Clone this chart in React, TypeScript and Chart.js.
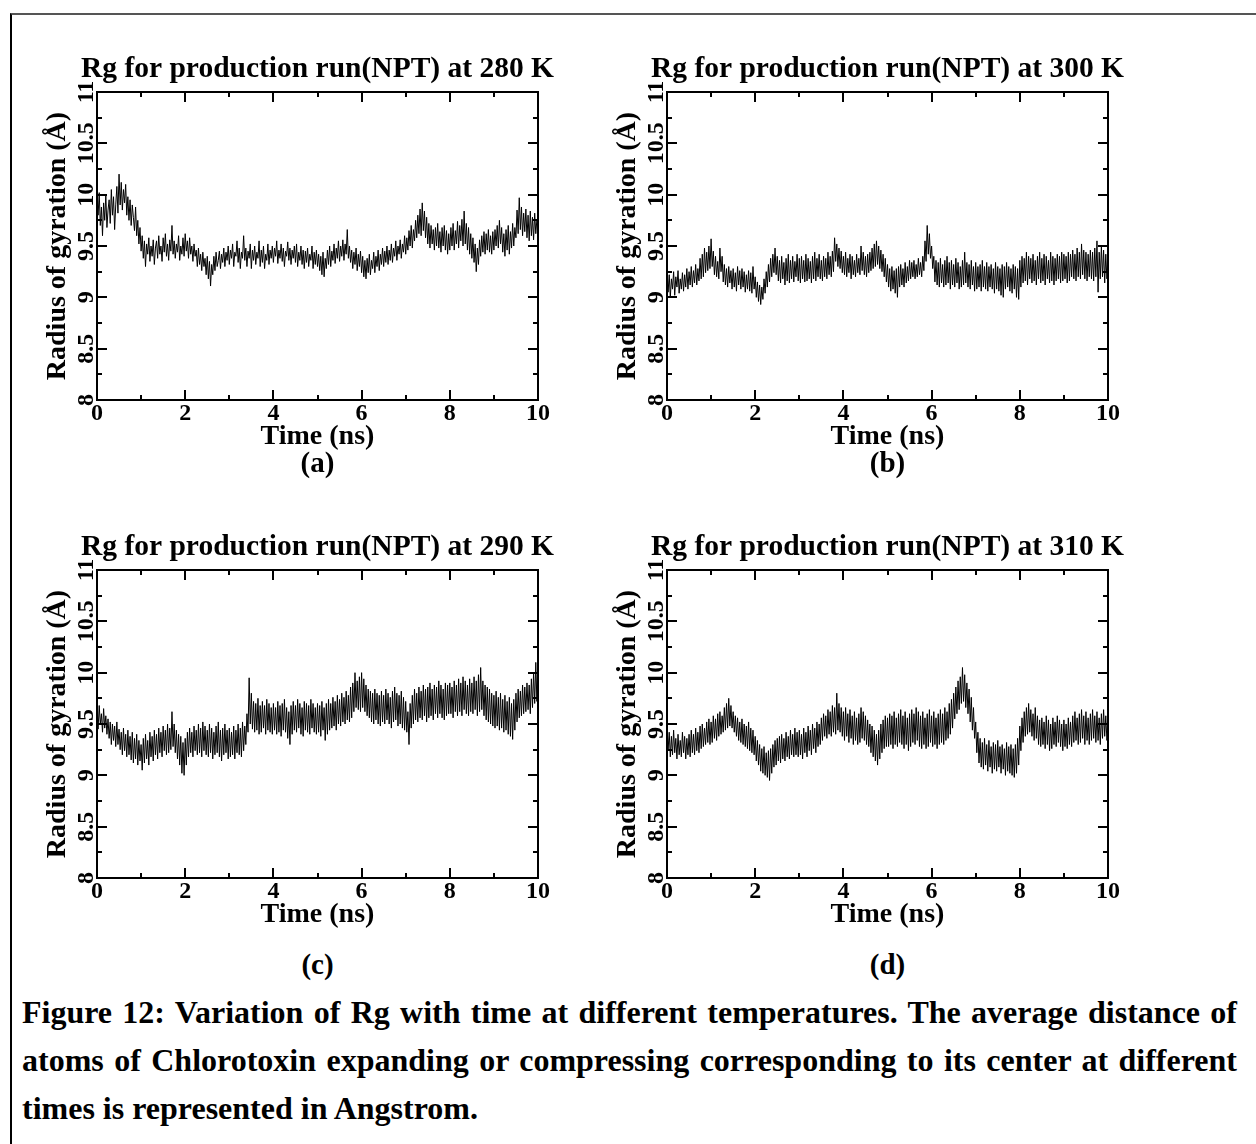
import React, { useEffect, useRef } from "react";
import { Chart, registerables } from "chart.js";

Chart.register(...registerables);

const SERIF = "'Liberation Serif', 'Times New Roman', Times, serif";

// sampling interval of the traced points (ns)
const TIME_STEP_NS = 0.025;

const xTickValues = [0, 2, 4, 6, 8, 10];
const xTickLabels = ["0", "2", "4", "6", "8", "10"];
const xMinorTickValues = [1, 3, 5, 7, 9];
const yTickValues = [8, 8.5, 9, 9.5, 10, 10.5, 11];
const yTickLabels = ["8", "8.5", "9", "9.5", "10", "10.5", "11"];
const yMinorTickValues = [8.25, 8.75, 9.25, 9.75, 10.25, 10.75];

const xAxisTitle = "Time (ns)";
const yAxisTitle = "Radius of gyration (Å)";
const panelTitles = [
  "Rg for production run(NPT) at 280 K",
  "Rg for production run(NPT) at 300 K",
  "Rg for production run(NPT) at 290 K",
  "Rg for production run(NPT) at 310 K",
];
const panelLetters = ["(a)", "(b)", "(c)", "(d)"];
const figureCaption =
  "Figure 12: Variation of Rg with time at different temperatures. The average distance of atoms of Chlorotoxin expanding or compressing corresponding to its center at different times is represented in Angstrom.";

// Rg (Å) every 0.025 ns, 0 → 10 ns (one row pair per ns)
const rg280K = [
  9.95, 9.8, 10.02, 9.7, 9.88, 9.6, 9.92, 9.75, 10.0, 9.68, 9.85, 9.95, 9.72, 10.05, 9.8, 9.98, 9.66, 9.9, 10.08, 9.82,
  10.2, 9.9, 10.12, 9.85, 10.05, 9.92, 10.1, 9.8, 9.98, 9.75, 9.95, 9.7, 9.9, 9.78, 9.65, 9.88, 9.6, 9.75, 9.52, 9.68,
  9.45, 9.6, 9.38, 9.55, 9.3, 9.52, 9.42, 9.58, 9.35, 9.5, 9.4, 9.56, 9.32, 9.48, 9.55, 9.38, 9.6, 9.42, 9.5, 9.35,
  9.58, 9.44, 9.62, 9.4, 9.52, 9.36, 9.56, 9.45, 9.7, 9.42, 9.55, 9.38, 9.52, 9.44, 9.6, 9.36, 9.5, 9.42, 9.58, 9.4,
  9.62, 9.45, 9.55, 9.38, 9.58, 9.42, 9.5, 9.35, 9.52, 9.4, 9.46, 9.3, 9.48, 9.32, 9.42, 9.26, 9.44, 9.3, 9.38, 9.22,
  9.4, 9.18, 9.35, 9.11, 9.32, 9.22, 9.4, 9.26, 9.44, 9.3, 9.36, 9.45, 9.28, 9.42, 9.34, 9.48, 9.3, 9.44, 9.36, 9.5,
  9.32, 9.46, 9.38, 9.52, 9.3, 9.44, 9.4, 9.55, 9.34, 9.48, 9.28, 9.44, 9.38, 9.6, 9.36, 9.48, 9.3, 9.45, 9.38, 9.52,
  9.28, 9.46, 9.36, 9.5, 9.32, 9.44, 9.38, 9.55, 9.3, 9.46, 9.34, 9.5, 9.28, 9.42, 9.36, 9.52, 9.32, 9.46, 9.38, 9.5,
  9.34, 9.48, 9.4, 9.55, 9.33, 9.46, 9.38, 9.52, 9.35, 9.48, 9.3, 9.45, 9.4, 9.54, 9.36, 9.48, 9.32, 9.46, 9.38, 9.5,
  9.34, 9.52, 9.3, 9.44, 9.36, 9.5, 9.32, 9.46, 9.28, 9.45, 9.34, 9.48, 9.3, 9.42, 9.36, 9.5, 9.28, 9.44, 9.32, 9.46,
  9.3, 9.42, 9.26, 9.4, 9.22, 9.44, 9.2, 9.38, 9.28, 9.46, 9.32, 9.5, 9.3, 9.45, 9.36, 9.52, 9.33, 9.48, 9.38, 9.55,
  9.35, 9.5, 9.4, 9.56, 9.36, 9.52, 9.42, 9.66, 9.38, 9.5, 9.34, 9.46, 9.28, 9.44, 9.32, 9.48, 9.26, 9.42, 9.3, 9.45,
  9.24, 9.4, 9.2, 9.36, 9.18, 9.38, 9.24, 9.42, 9.22, 9.36, 9.28, 9.44, 9.24, 9.4, 9.3, 9.46, 9.26, 9.42, 9.32, 9.48,
  9.3, 9.45, 9.34, 9.5, 9.32, 9.46, 9.36, 9.52, 9.34, 9.48, 9.4, 9.55, 9.36, 9.5, 9.42, 9.56, 9.38, 9.52, 9.44, 9.6,
  9.42, 9.58, 9.46, 9.65, 9.5, 9.7, 9.48, 9.66, 9.55, 9.75, 9.58, 9.8, 9.62, 9.86, 9.6, 9.92, 9.65, 9.84, 9.58, 9.78,
  9.52, 9.72, 9.48, 9.7, 9.52, 9.66, 9.46, 9.68, 9.5, 9.72, 9.48, 9.64, 9.44, 9.68, 9.5, 9.7, 9.46, 9.65, 9.42, 9.62,
  9.46, 9.68, 9.5, 9.72, 9.46, 9.65, 9.52, 9.74, 9.48, 9.7, 9.55, 9.76, 9.5, 9.84, 9.52, 9.72, 9.46, 9.68, 9.42, 9.62,
  9.38, 9.58, 9.34, 9.52, 9.25, 9.48, 9.32, 9.56, 9.4, 9.6, 9.44, 9.64, 9.42, 9.62, 9.46, 9.66, 9.44, 9.6, 9.42, 9.64,
  9.46, 9.66, 9.5, 9.7, 9.48, 9.75, 9.52, 9.68, 9.44, 9.62, 9.4, 9.66, 9.46, 9.7, 9.42, 9.64, 9.48, 9.72, 9.5, 9.68,
  9.58, 9.85, 9.62, 9.97, 9.66, 9.88, 9.6, 9.82, 9.64, 9.86, 9.58, 9.8, 9.55, 9.84, 9.6, 9.78, 9.56, 9.82, 9.62, 9.76,
  9.7,
];

const rg300K = [
  9.3, 9.05, 9.22, 9.0, 9.18, 9.08, 9.25, 9.02, 9.2, 9.1, 9.26, 9.04, 9.18, 9.08, 9.24, 9.06, 9.22, 9.1, 9.28, 9.08,
  9.25, 9.12, 9.3, 9.1, 9.26, 9.14, 9.32, 9.12, 9.28, 9.16, 9.38, 9.18, 9.42, 9.2, 9.48, 9.24, 9.44, 9.26, 9.5, 9.28,
  9.57, 9.3, 9.45, 9.22, 9.4, 9.2, 9.35, 9.18, 9.48, 9.25, 9.4, 9.15, 9.32, 9.12, 9.28, 9.1, 9.3, 9.14, 9.26, 9.08,
  9.28, 9.1, 9.24, 9.06, 9.3, 9.12, 9.26, 9.08, 9.28, 9.1, 9.25, 9.05, 9.22, 9.08, 9.26, 9.06, 9.24, 9.04, 9.3, 9.08,
  9.2, 9.0, 9.15, 8.96, 9.12, 8.93, 9.1, 8.98, 9.18, 9.04, 9.25, 9.1, 9.32, 9.15, 9.38, 9.2, 9.42, 9.24, 9.48, 9.22,
  9.4, 9.16, 9.36, 9.14, 9.4, 9.18, 9.34, 9.12, 9.38, 9.16, 9.42, 9.14, 9.36, 9.18, 9.4, 9.15, 9.35, 9.2, 9.42, 9.16,
  9.38, 9.14, 9.4, 9.18, 9.36, 9.15, 9.42, 9.16, 9.38, 9.18, 9.35, 9.14, 9.4, 9.18, 9.44, 9.16, 9.38, 9.2, 9.42, 9.18,
  9.36, 9.16, 9.4, 9.2, 9.38, 9.18, 9.44, 9.22, 9.4, 9.2, 9.45, 9.25, 9.58, 9.35, 9.52, 9.3, 9.48, 9.28, 9.45, 9.24,
  9.4, 9.22, 9.44, 9.2, 9.38, 9.24, 9.42, 9.18, 9.4, 9.22, 9.36, 9.2, 9.42, 9.24, 9.38, 9.22, 9.5, 9.26, 9.44, 9.22,
  9.4, 9.2, 9.42, 9.24, 9.44, 9.26, 9.48, 9.28, 9.52, 9.3, 9.55, 9.32, 9.5, 9.28, 9.46, 9.25, 9.42, 9.2, 9.38, 9.15,
  9.32, 9.1, 9.28, 9.06, 9.3, 9.08, 9.26, 9.04, 9.28, 9.0, 9.3, 9.1, 9.32, 9.12, 9.28, 9.1, 9.34, 9.14, 9.3, 9.16,
  9.36, 9.18, 9.34, 9.2, 9.36, 9.18, 9.32, 9.2, 9.38, 9.22, 9.34, 9.2, 9.4, 9.26, 9.55, 9.35, 9.7, 9.42, 9.62, 9.38,
  9.5, 9.28, 9.4, 9.15, 9.36, 9.12, 9.34, 9.1, 9.38, 9.14, 9.32, 9.1, 9.36, 9.12, 9.4, 9.14, 9.34, 9.08, 9.36, 9.12,
  9.32, 9.1, 9.38, 9.14, 9.34, 9.08, 9.3, 9.1, 9.36, 9.12, 9.44, 9.14, 9.34, 9.1, 9.32, 9.08, 9.36, 9.12, 9.3, 9.06,
  9.34, 9.08, 9.3, 9.1, 9.32, 9.06, 9.36, 9.1, 9.3, 9.08, 9.34, 9.06, 9.3, 9.1, 9.32, 9.08, 9.28, 9.04, 9.34, 9.08,
  9.3, 9.06, 9.28, 9.02, 9.32, 9.0, 9.3, 9.08, 9.34, 9.1, 9.3, 9.06, 9.28, 9.04, 9.32, 9.08, 9.3, 9.0, 9.28, 8.98,
  9.36, 9.1, 9.4, 9.14, 9.38, 9.16, 9.44, 9.12, 9.4, 9.18, 9.38, 9.14, 9.42, 9.16, 9.36, 9.12, 9.4, 9.18, 9.44, 9.14,
  9.38, 9.16, 9.42, 9.12, 9.4, 9.18, 9.36, 9.14, 9.44, 9.16, 9.4, 9.12, 9.38, 9.16, 9.42, 9.18, 9.4, 9.14, 9.44, 9.16,
  9.42, 9.18, 9.4, 9.14, 9.44, 9.16, 9.42, 9.2, 9.46, 9.18, 9.42, 9.16, 9.48, 9.2, 9.44, 9.18, 9.52, 9.22, 9.46, 9.18,
  9.44, 9.16, 9.42, 9.2, 9.46, 9.18, 9.44, 9.16, 9.48, 9.2, 9.55, 9.05, 9.44, 9.18, 9.5, 9.2, 9.46, 9.14, 9.42, 9.18,
  9.3,
];

const rg290K = [
  9.62, 9.45, 9.68, 9.5, 9.6, 9.42, 9.65, 9.46, 9.58, 9.4, 9.55, 9.36, 9.52, 9.3, 9.5, 9.34, 9.48, 9.28, 9.52, 9.3,
  9.45, 9.25, 9.42, 9.2, 9.46, 9.24, 9.4, 9.18, 9.44, 9.2, 9.38, 9.15, 9.42, 9.12, 9.36, 9.16, 9.4, 9.1, 9.34, 9.14,
  9.3, 9.05, 9.36, 9.12, 9.4, 9.16, 9.34, 9.1, 9.42, 9.18, 9.38, 9.14, 9.44, 9.2, 9.4, 9.16, 9.46, 9.22, 9.42, 9.18,
  9.48, 9.24, 9.44, 9.2, 9.5, 9.22, 9.46, 9.25, 9.62, 9.28, 9.5, 9.22, 9.44, 9.16, 9.4, 9.1, 9.38, 9.02, 9.32, 9.0,
  9.36, 9.1, 9.42, 9.18, 9.46, 9.22, 9.42, 9.18, 9.48, 9.24, 9.44, 9.2, 9.5, 9.22, 9.46, 9.18, 9.52, 9.24, 9.48, 9.2,
  9.44, 9.18, 9.5, 9.22, 9.46, 9.16, 9.42, 9.2, 9.48, 9.22, 9.52, 9.18, 9.44, 9.14, 9.46, 9.2, 9.5, 9.22, 9.44, 9.16,
  9.46, 9.18, 9.42, 9.2, 9.48, 9.16, 9.44, 9.22, 9.5, 9.2, 9.46, 9.18, 9.52, 9.24, 9.48, 9.3, 9.6, 9.42, 9.95, 9.5,
  9.8, 9.45, 9.72, 9.42, 9.7, 9.44, 9.75, 9.4, 9.68, 9.42, 9.72, 9.46, 9.68, 9.4, 9.74, 9.44, 9.7, 9.42, 9.66, 9.4,
  9.7, 9.44, 9.66, 9.4, 9.72, 9.42, 9.68, 9.38, 9.7, 9.44, 9.74, 9.42, 9.66, 9.36, 9.62, 9.3, 9.68, 9.4, 9.72, 9.44,
  9.68, 9.42, 9.74, 9.46, 9.7, 9.4, 9.66, 9.38, 9.72, 9.44, 9.7, 9.42, 9.68, 9.4, 9.74, 9.46, 9.7, 9.42, 9.66, 9.4,
  9.7, 9.42, 9.68, 9.38, 9.72, 9.44, 9.66, 9.34, 9.7, 9.4, 9.74, 9.44, 9.7, 9.46, 9.76, 9.48, 9.72, 9.44, 9.78, 9.5,
  9.74, 9.48, 9.8, 9.52, 9.76, 9.5, 9.82, 9.54, 9.78, 9.52, 9.86, 9.56, 9.9, 9.62, 10.0, 9.66, 9.92, 9.64, 9.96, 9.62,
  10.0, 9.66, 9.94, 9.62, 9.88, 9.58, 9.84, 9.56, 9.82, 9.52, 9.8, 9.5, 9.84, 9.54, 9.8, 9.5, 9.78, 9.48, 9.82, 9.52,
  9.78, 9.5, 9.84, 9.54, 9.8, 9.5, 9.76, 9.46, 9.82, 9.52, 9.86, 9.54, 9.8, 9.48, 9.78, 9.5, 9.82, 9.46, 9.76, 9.44,
  9.72, 9.42, 9.62, 9.3, 9.7, 9.46, 9.78, 9.5, 9.84, 9.54, 9.8, 9.52, 9.86, 9.56, 9.82, 9.54, 9.88, 9.58, 9.84, 9.52,
  9.86, 9.56, 9.9, 9.58, 9.84, 9.54, 9.88, 9.6, 9.86, 9.56, 9.92, 9.6, 9.88, 9.56, 9.84, 9.54, 9.9, 9.58, 9.88, 9.6,
  9.9, 9.6, 9.86, 9.56, 9.92, 9.62, 9.88, 9.58, 9.94, 9.62, 9.9, 9.58, 9.96, 9.64, 9.92, 9.6, 9.88, 9.58, 9.94, 9.62,
  9.9, 9.6, 9.96, 9.64, 9.92, 9.58, 9.98, 9.62, 10.05, 9.64, 9.92, 9.58, 9.88, 9.54, 9.86, 9.52, 9.84, 9.5, 9.8, 9.48,
  9.78, 9.46, 9.82, 9.48, 9.76, 9.44, 9.8, 9.46, 9.74, 9.42, 9.78, 9.44, 9.72, 9.4, 9.76, 9.38, 9.7, 9.35, 9.74, 9.44,
  9.8, 9.52, 9.84, 9.56, 9.82, 9.58, 9.88, 9.6, 9.86, 9.62, 9.9, 9.64, 9.88, 9.6, 9.94, 9.66, 10.0, 9.7, 10.1, 9.72,
  10.2,
];

const rg310K = [
  9.5, 9.25, 9.42, 9.18, 9.38, 9.2, 9.44, 9.22, 9.36, 9.16, 9.4, 9.2, 9.34, 9.18, 9.42, 9.22, 9.38, 9.16, 9.36, 9.2,
  9.4, 9.18, 9.44, 9.22, 9.4, 9.2, 9.46, 9.24, 9.42, 9.22, 9.48, 9.26, 9.5, 9.28, 9.46, 9.3, 9.52, 9.32, 9.55, 9.3,
  9.52, 9.32, 9.58, 9.36, 9.55, 9.34, 9.6, 9.38, 9.62, 9.4, 9.58, 9.42, 9.66, 9.44, 9.7, 9.46, 9.75, 9.48, 9.68, 9.46,
  9.62, 9.42, 9.58, 9.38, 9.56, 9.34, 9.52, 9.32, 9.55, 9.3, 9.5, 9.28, 9.48, 9.26, 9.52, 9.24, 9.46, 9.22, 9.44, 9.2,
  9.38, 9.14, 9.34, 9.1, 9.3, 9.04, 9.26, 9.02, 9.28, 9.0, 9.22, 8.98, 9.24, 8.95, 9.26, 9.02, 9.3, 9.08, 9.34, 9.1,
  9.36, 9.14, 9.38, 9.12, 9.4, 9.16, 9.36, 9.14, 9.42, 9.18, 9.38, 9.16, 9.44, 9.2, 9.4, 9.18, 9.46, 9.2, 9.42, 9.18,
  9.44, 9.2, 9.4, 9.16, 9.46, 9.22, 9.42, 9.18, 9.48, 9.24, 9.44, 9.2, 9.5, 9.26, 9.46, 9.22, 9.52, 9.28, 9.5, 9.3,
  9.56, 9.34, 9.6, 9.38, 9.58, 9.36, 9.64, 9.4, 9.62, 9.38, 9.68, 9.42, 9.66, 9.4, 9.8, 9.44, 9.7, 9.42, 9.66, 9.38,
  9.62, 9.34, 9.66, 9.38, 9.6, 9.32, 9.64, 9.36, 9.58, 9.3, 9.62, 9.34, 9.56, 9.3, 9.6, 9.32, 9.66, 9.36, 9.62, 9.34,
  9.58, 9.3, 9.54, 9.28, 9.5, 9.22, 9.48, 9.18, 9.44, 9.14, 9.4, 9.1, 9.44, 9.16, 9.5, 9.22, 9.54, 9.26, 9.58, 9.28,
  9.56, 9.28, 9.6, 9.3, 9.58, 9.26, 9.62, 9.3, 9.56, 9.28, 9.6, 9.32, 9.64, 9.3, 9.58, 9.26, 9.62, 9.3, 9.56, 9.24,
  9.6, 9.28, 9.64, 9.32, 9.6, 9.3, 9.66, 9.34, 9.62, 9.28, 9.58, 9.26, 9.62, 9.3, 9.56, 9.26, 9.6, 9.28, 9.64, 9.32,
  9.58, 9.28, 9.62, 9.3, 9.56, 9.26, 9.6, 9.3, 9.64, 9.32, 9.6, 9.3, 9.66, 9.34, 9.62, 9.36, 9.7, 9.4, 9.74, 9.46,
  9.8, 9.55, 9.86, 9.6, 9.92, 9.64, 9.96, 9.7, 10.05, 9.72, 9.98, 9.66, 9.9, 9.6, 9.84, 9.52, 9.76, 9.44, 9.66, 9.36,
  9.52, 9.22, 9.42, 9.12, 9.36, 9.08, 9.32, 9.06, 9.36, 9.1, 9.3, 9.04, 9.34, 9.08, 9.28, 9.02, 9.32, 9.06, 9.3, 9.04,
  9.34, 9.08, 9.28, 9.02, 9.3, 9.06, 9.26, 9.0, 9.32, 9.04, 9.28, 9.02, 9.3, 9.0, 9.26, 8.98, 9.3, 9.02, 9.36, 9.1,
  9.48, 9.24, 9.56, 9.32, 9.62, 9.38, 9.66, 9.4, 9.7, 9.42, 9.64, 9.38, 9.6, 9.34, 9.66, 9.36, 9.58, 9.3, 9.54, 9.28,
  9.56, 9.3, 9.52, 9.26, 9.58, 9.3, 9.54, 9.24, 9.5, 9.26, 9.56, 9.3, 9.52, 9.28, 9.58, 9.32, 9.54, 9.28, 9.5, 9.24,
  9.54, 9.28, 9.5, 9.26, 9.56, 9.3, 9.52, 9.28, 9.58, 9.32, 9.62, 9.34, 9.56, 9.3, 9.6, 9.32, 9.64, 9.36, 9.58, 9.3,
  9.62, 9.34, 9.56, 9.3, 9.6, 9.34, 9.64, 9.36, 9.58, 9.32, 9.62, 9.34, 9.56, 9.3, 9.6, 9.36, 9.64, 9.38, 9.58, 9.34,
  9.46,
];

const panelSeries = [rg280K, rg300K, rg290K, rg310K];

// layout (page pixels)
const Y_AXIS_W = 77;
const TOP_H = 52;
const X_AXIS_H = 52;
const PLOT_W = 441;
const PLOT_H = 308;
const CANVAS_W = Y_AXIS_W * 2 + PLOT_W;
const CANVAS_H = TOP_H + PLOT_H + X_AXIS_H;
const panelPlotOrigins = [
  { left: 97, top: 92 },
  { left: 667, top: 92 },
  { left: 97, top: 570 },
  { left: 667, top: 570 },
];
const letterTops = [448, 448, 950, 950];

const framePlugin = {
  id: "xmgraceFrame",
  afterDatasetsDraw(chart: any) {
    const { ctx, chartArea, scales } = chart;
    const { left, right, top, bottom } = chartArea;
    const xs = scales.x;
    const ys = scales.y;
    ctx.save();
    ctx.strokeStyle = "#000";
    ctx.lineWidth = 2;
    ctx.beginPath();
    const xTick = (v: number, len: number) => {
      const p = Math.round(xs.getPixelForValue(v));
      ctx.moveTo(p, bottom);
      ctx.lineTo(p, bottom - len);
      ctx.moveTo(p, top);
      ctx.lineTo(p, top + len);
    };
    const yTick = (v: number, len: number) => {
      const p = Math.round(ys.getPixelForValue(v));
      ctx.moveTo(left, p);
      ctx.lineTo(left + len, p);
      ctx.moveTo(right, p);
      ctx.lineTo(right - len, p);
    };
    xTickValues.forEach((v) => xTick(v, 10));
    xMinorTickValues.forEach((v) => xTick(v, 5));
    yTickValues.forEach((v) => yTick(v, 10));
    yMinorTickValues.forEach((v) => yTick(v, 5));
    ctx.stroke();
    ctx.strokeRect(left, top, right - left, bottom - top);
    ctx.restore();
  },
};

function makeConfig(title: string, values: number[]): any {
  const tickFont = { family: SERIF, size: 24, weight: "bold" as const, lineHeight: 1.2 };
  return {
    type: "line",
    data: {
      datasets: [
        {
          data: values.map((v, i) => ({ x: i * TIME_STEP_NS, y: v })),
          borderColor: "#000",
          borderWidth: 1,
          pointRadius: 0,
          tension: 0,
          fill: false,
        },
      ],
    },
    options: {
      animation: false,
      responsive: false,
      devicePixelRatio: 1,
      events: [],
      layout: { padding: 0 },
      plugins: {
        legend: { display: false },
        tooltip: { enabled: false },
        title: {
          display: true,
          text: title,
          color: "#000",
          fullSize: true,
          font: { family: SERIF, size: 29.5, weight: "bold", lineHeight: 1.2 },
          padding: { top: 12, bottom: 4.6 },
        },
      },
      scales: {
        x: {
          type: "linear",
          position: "bottom",
          min: 0,
          max: 10,
          afterBuildTicks: (s: any) => {
            s.ticks = xTickValues.map((v) => ({ value: v }));
          },
          afterFit: (s: any) => {
            s.height = X_AXIS_H;
          },
          ticks: {
            autoSkip: false,
            maxRotation: 0,
            padding: -1,
            color: "#000",
            font: tickFont,
            callback: (_v: any, i: number) => xTickLabels[i],
          },
          grid: { display: false, drawTicks: false },
          border: { display: false },
          title: {
            display: true,
            text: xAxisTitle,
            color: "#000",
            font: { family: SERIF, size: 28, weight: "bold", lineHeight: 1 },
            padding: { top: 0, bottom: 1 },
          },
        },
        y: {
          type: "linear",
          position: "left",
          min: 8,
          max: 11,
          afterBuildTicks: (s: any) => {
            s.ticks = yTickValues.map((v) => ({ value: v }));
          },
          afterFit: (s: any) => {
            s.width = Y_AXIS_W;
          },
          ticks: {
            autoSkip: false,
            minRotation: 90,
            maxRotation: 90,
            crossAlign: "center",
            padding: -10.5,
            color: "#000",
            font: tickFont,
            callback: (_v: any, i: number) => yTickLabels[i],
          },
          grid: { display: false, drawTicks: false },
          border: { display: false },
          title: {
            display: true,
            text: yAxisTitle,
            color: "#000",
            font: { family: SERIF, size: 28, weight: "bold", lineHeight: 1.2 },
            padding: { top: 20.7, bottom: 0 },
          },
        },
        yRightSpacer: {
          type: "linear",
          position: "right",
          display: true,
          min: 8,
          max: 11,
          afterFit: (s: any) => {
            s.width = Y_AXIS_W;
          },
          ticks: { display: false },
          grid: { display: false, drawTicks: false },
          border: { display: false },
        },
      },
    },
    plugins: [framePlugin],
  };
}

function RgPanel({ title, values, left, top }: { title: string; values: number[]; left: number; top: number }) {
  const ref = useRef<HTMLCanvasElement>(null);
  useEffect(() => {
    if (!ref.current) return;
    const chart = new Chart(ref.current, makeConfig(title, values));
    return () => chart.destroy();
  }, [title, values]);
  return (
    <canvas
      ref={ref}
      width={CANVAS_W}
      height={CANVAS_H}
      style={{ position: "absolute", left, top, width: CANVAS_W, height: CANVAS_H }}
    />
  );
}

export default function App() {
  useEffect(() => {
    document.body.style.overflow = "hidden";
  }, []);
  return (
    <div
      style={{
        position: "absolute",
        left: 0,
        top: 0,
        width: 1256,
        height: 1144,
        overflow: "hidden",
        background: "#fff",
        fontFamily: SERIF,
        color: "#000",
      }}
    >
      <div
        style={{
          position: "absolute",
          left: 10,
          top: 13,
          width: 1400,
          height: 1300,
          borderTop: "2px solid #555",
          borderLeft: "2px solid #000",
        }}
      />
      {panelTitles.map((t, i) => (
        <RgPanel
          key={i}
          title={t}
          values={panelSeries[i]}
          left={panelPlotOrigins[i].left - Y_AXIS_W}
          top={panelPlotOrigins[i].top - TOP_H}
        />
      ))}
      {panelLetters.map((l, i) => (
        <div
          key={l}
          style={{
            position: "absolute",
            left: panelPlotOrigins[i].left + PLOT_W / 2 - 100,
            top: letterTops[i],
            width: 200,
            textAlign: "center",
            fontSize: 29,
            lineHeight: "29px",
            fontWeight: "bold",
          }}
        >
          {l}
        </div>
      ))}
      <div
        style={{
          position: "absolute",
          left: 22,
          top: 988,
          width: 1215,
          fontSize: 32,
          lineHeight: "48px",
          fontWeight: "bold",
          textAlign: "justify",
        }}
      >
        {figureCaption}
      </div>
    </div>
  );
}
